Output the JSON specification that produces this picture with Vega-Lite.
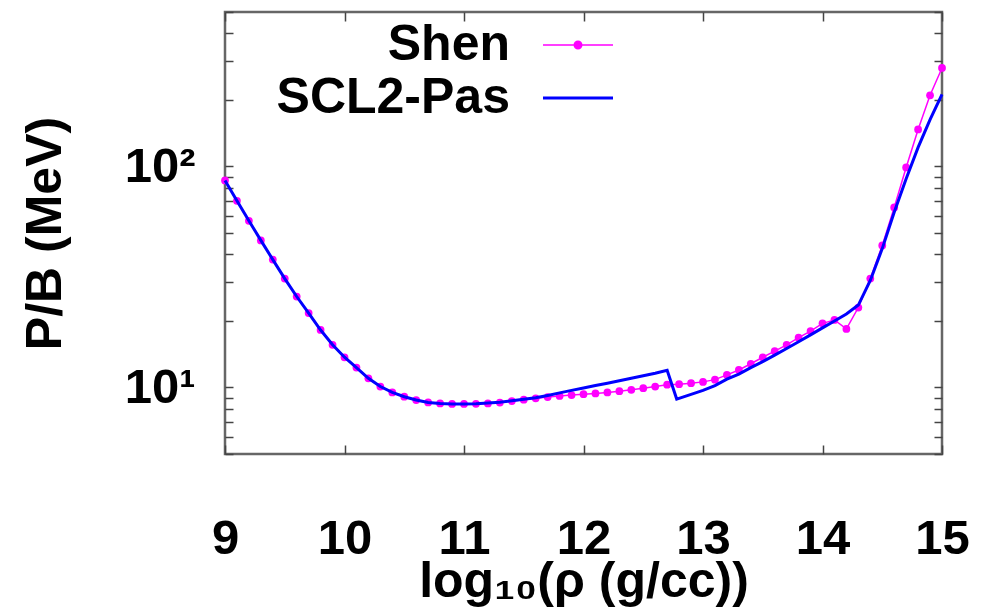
{
  "$schema": "https://vega.github.io/schema/vega-lite/v6.json",
  "width": 717,
  "height": 442,
  "autosize": {"type": "none"},
  "padding": {"left": 225, "top": 12, "right": 39, "bottom": 160},
  "background": "white",
  "config": {"view": {"stroke": "#666666", "strokeWidth": 2.5}, "font": "Liberation Sans"},
  "data": {"values": [
    {"series":"Shen","logrho":9.0,"pb":86.5},{"series":"Shen","logrho":9.1,"pb":69.9},{"series":"Shen","logrho":9.2,"pb":56.8},{"series":"Shen","logrho":9.3,"pb":46.3},{"series":"Shen","logrho":9.4,"pb":37.9},
    {"series":"Shen","logrho":9.5,"pb":31.1},{"series":"Shen","logrho":9.6,"pb":25.8},{"series":"Shen","logrho":9.7,"pb":21.7},{"series":"Shen","logrho":9.8,"pb":18.2},{"series":"Shen","logrho":9.9,"pb":15.6},
    {"series":"Shen","logrho":10.0,"pb":13.7},{"series":"Shen","logrho":10.1,"pb":12.3},{"series":"Shen","logrho":10.2,"pb":11.0},{"series":"Shen","logrho":10.3,"pb":10.1},{"series":"Shen","logrho":10.4,"pb":9.5},
    {"series":"Shen","logrho":10.5,"pb":9.08},{"series":"Shen","logrho":10.6,"pb":8.77},{"series":"Shen","logrho":10.7,"pb":8.56},{"series":"Shen","logrho":10.8,"pb":8.47},{"series":"Shen","logrho":10.9,"pb":8.42},
    {"series":"Shen","logrho":11.0,"pb":8.42},{"series":"Shen","logrho":11.1,"pb":8.43},{"series":"Shen","logrho":11.2,"pb":8.47},{"series":"Shen","logrho":11.3,"pb":8.55},{"series":"Shen","logrho":11.4,"pb":8.68},
    {"series":"Shen","logrho":11.5,"pb":8.8},{"series":"Shen","logrho":11.6,"pb":8.93},{"series":"Shen","logrho":11.7,"pb":9.05},{"series":"Shen","logrho":11.8,"pb":9.15},{"series":"Shen","logrho":11.9,"pb":9.24},
    {"series":"Shen","logrho":12.0,"pb":9.32},{"series":"Shen","logrho":12.1,"pb":9.4},{"series":"Shen","logrho":12.2,"pb":9.5},{"series":"Shen","logrho":12.3,"pb":9.62},{"series":"Shen","logrho":12.4,"pb":9.76},
    {"series":"Shen","logrho":12.5,"pb":9.93},{"series":"Shen","logrho":12.6,"pb":10.1},{"series":"Shen","logrho":12.7,"pb":10.3},{"series":"Shen","logrho":12.8,"pb":10.35},{"series":"Shen","logrho":12.9,"pb":10.45},
    {"series":"Shen","logrho":13.0,"pb":10.6},{"series":"Shen","logrho":13.1,"pb":10.85},{"series":"Shen","logrho":13.2,"pb":11.4},{"series":"Shen","logrho":13.3,"pb":12.0},{"series":"Shen","logrho":13.4,"pb":12.8},
    {"series":"Shen","logrho":13.5,"pb":13.7},{"series":"Shen","logrho":13.6,"pb":14.6},{"series":"Shen","logrho":13.7,"pb":15.6},{"series":"Shen","logrho":13.8,"pb":16.8},{"series":"Shen","logrho":13.9,"pb":18.0},
    {"series":"Shen","logrho":14.0,"pb":19.5},{"series":"Shen","logrho":14.1,"pb":20.2},{"series":"Shen","logrho":14.2,"pb":18.4},{"series":"Shen","logrho":14.3,"pb":23.0},{"series":"Shen","logrho":14.4,"pb":31.1},
    {"series":"Shen","logrho":14.5,"pb":43.9},{"series":"Shen","logrho":14.6,"pb":65.3},{"series":"Shen","logrho":14.7,"pb":99},{"series":"Shen","logrho":14.8,"pb":147},{"series":"Shen","logrho":14.9,"pb":210},
    {"series":"Shen","logrho":15.0,"pb":279},
    {"series":"SCL2-Pas","logrho":9.0,"pb":86.5},{"series":"SCL2-Pas","logrho":9.1,"pb":69.9},{"series":"SCL2-Pas","logrho":9.2,"pb":56.8},{"series":"SCL2-Pas","logrho":9.3,"pb":46.3},{"series":"SCL2-Pas","logrho":9.4,"pb":37.9},
    {"series":"SCL2-Pas","logrho":9.5,"pb":31.1},{"series":"SCL2-Pas","logrho":9.6,"pb":25.8},{"series":"SCL2-Pas","logrho":9.7,"pb":21.7},{"series":"SCL2-Pas","logrho":9.8,"pb":18.2},{"series":"SCL2-Pas","logrho":9.9,"pb":15.6},
    {"series":"SCL2-Pas","logrho":10.0,"pb":13.7},{"series":"SCL2-Pas","logrho":10.1,"pb":12.3},{"series":"SCL2-Pas","logrho":10.2,"pb":11.0},{"series":"SCL2-Pas","logrho":10.3,"pb":10.1},{"series":"SCL2-Pas","logrho":10.4,"pb":9.5},
    {"series":"SCL2-Pas","logrho":10.5,"pb":9.08},{"series":"SCL2-Pas","logrho":10.6,"pb":8.77},{"series":"SCL2-Pas","logrho":10.7,"pb":8.56},{"series":"SCL2-Pas","logrho":10.8,"pb":8.47},{"series":"SCL2-Pas","logrho":10.9,"pb":8.42},
    {"series":"SCL2-Pas","logrho":11.0,"pb":8.42},{"series":"SCL2-Pas","logrho":11.1,"pb":8.44},{"series":"SCL2-Pas","logrho":11.2,"pb":8.5},{"series":"SCL2-Pas","logrho":11.3,"pb":8.58},{"series":"SCL2-Pas","logrho":11.4,"pb":8.7},
    {"series":"SCL2-Pas","logrho":11.5,"pb":8.84},{"series":"SCL2-Pas","logrho":11.6,"pb":8.98},{"series":"SCL2-Pas","logrho":11.7,"pb":9.2},{"series":"SCL2-Pas","logrho":11.8,"pb":9.45},{"series":"SCL2-Pas","logrho":11.9,"pb":9.7},
    {"series":"SCL2-Pas","logrho":12.0,"pb":9.95},{"series":"SCL2-Pas","logrho":12.1,"pb":10.2},{"series":"SCL2-Pas","logrho":12.2,"pb":10.45},{"series":"SCL2-Pas","logrho":12.3,"pb":10.72},{"series":"SCL2-Pas","logrho":12.4,"pb":11.0},
    {"series":"SCL2-Pas","logrho":12.5,"pb":11.3},{"series":"SCL2-Pas","logrho":12.6,"pb":11.6},{"series":"SCL2-Pas","logrho":12.7,"pb":11.95},{"series":"SCL2-Pas","logrho":12.78,"pb":8.86},{"series":"SCL2-Pas","logrho":12.9,"pb":9.3},
    {"series":"SCL2-Pas","logrho":13.0,"pb":9.7},{"series":"SCL2-Pas","logrho":13.1,"pb":10.2},{"series":"SCL2-Pas","logrho":13.2,"pb":10.9},{"series":"SCL2-Pas","logrho":13.3,"pb":11.5},{"series":"SCL2-Pas","logrho":13.4,"pb":12.3},
    {"series":"SCL2-Pas","logrho":13.5,"pb":13.1},{"series":"SCL2-Pas","logrho":13.6,"pb":14.0},{"series":"SCL2-Pas","logrho":13.7,"pb":15.0},{"series":"SCL2-Pas","logrho":13.8,"pb":16.1},{"series":"SCL2-Pas","logrho":13.9,"pb":17.3},
    {"series":"SCL2-Pas","logrho":14.0,"pb":18.6},{"series":"SCL2-Pas","logrho":14.1,"pb":20.0},{"series":"SCL2-Pas","logrho":14.2,"pb":21.5},{"series":"SCL2-Pas","logrho":14.3,"pb":23.6},{"series":"SCL2-Pas","logrho":14.4,"pb":30.5},
    {"series":"SCL2-Pas","logrho":14.5,"pb":42.5},{"series":"SCL2-Pas","logrho":14.6,"pb":62},{"series":"SCL2-Pas","logrho":14.7,"pb":88},{"series":"SCL2-Pas","logrho":14.8,"pb":122},{"series":"SCL2-Pas","logrho":14.9,"pb":163},
    {"series":"SCL2-Pas","logrho":15.0,"pb":212}
  ]},
  "layer": [
    {
      "transform": [{"filter": "datum.series === 'Shen'"}],
      "mark": {"type": "line", "strokeWidth": 1.5, "point": {"filled": true, "size": 60, "opacity": 1}},
      "encoding": {
        "x": {"field": "logrho", "type": "quantitative",
          "scale": {"domain": [9, 15], "nice": false, "zero": false},
          "axis": {"orient": "bottom", "values": [9,10,11,12,13,14,15], "format": "d", "grid": false, "domain": false,
            "tickSize": -9, "tickColor": "#444444", "tickWidth": 1.5, "labelFlush": false,
            "labelFont": "Liberation Sans", "labelFontSize": 49, "labelFontWeight": "bold", "labelColor": "black",
            "labelBaseline": "alphabetic", "labelPadding": 108,
            "title": "log₁₀(ρ (g/cc))", "titleFont": "Liberation Sans", "titleFontSize": 50, "titleFontWeight": "bold", "titleColor": "black",
            "titleBaseline": "alphabetic", "titleY": 142}},
        "y": {"field": "pb", "type": "quantitative",
          "scale": {"type": "log", "domain": [5, 500], "nice": false},
          "axis": {"orient": "left", "values": [5,6,7,8,9,10,20,30,40,50,60,70,80,90,100,200,300,400,500],
            "labelExpr": "datum.value == 10 ? '10¹' : (datum.value == 100 ? '10²' : '')",
            "grid": false, "domain": false, "tickSize": -8, "tickColor": "#444444", "tickWidth": 1.5,
            "labelFlush": false, "labelOverlap": false,
            "labelFont": "Liberation Sans", "labelFontSize": 49, "labelFontWeight": "bold", "labelColor": "black", "labelPadding": 38,
            "title": "P/B (MeV)", "titleFont": "Liberation Sans", "titleFontSize": 50, "titleFontWeight": "bold", "titleColor": "black",
            "titleX": -180, "titleBaseline": "middle",
            "encode": {"ticks": {"update": {"x2": {"signal": "(datum.value == 10 || datum.value == 100) ? 8 : 4"}}}}}},
        "color": {"field": "series", "type": "nominal",
          "scale": {"domain": ["Shen", "SCL2-Pas"], "range": ["#ff00ff", "#0000ff"]},
          "legend": {"title": null, "orient": "none", "legendX": 200, "legendY": 8, "padding": 0,
            "labelFont": "Liberation Sans", "labelFontSize": 50, "labelFontWeight": "bold", "labelColor": "black",
            "labelLimit": 0, "labelOffset": 0, "symbolSize": 100, "rowPadding": 3,
            "encode": {
              "symbols": {"update": {
                "shape": {"signal": "datum.value === 'Shen' ? 'M-7,0H7M-0.75,0A0.75,0.75 0 1,0 0.75,0A0.75,0.75 0 1,0 -0.75,0Z' : 'M-7,0H7'"},
                "x": {"value": 153},
                "strokeWidth": {"signal": "datum.value === 'Shen' ? 1.5 : 3"},
                "fill": {"signal": "datum.value === 'Shen' ? '#ff00ff' : 'transparent'"},
                "stroke": {"signal": "datum.value === 'Shen' ? '#ff00ff' : '#0000ff'"},
                "opacity": {"value": 1}, "fillOpacity": {"value": 1}, "strokeOpacity": {"value": 1}}},
              "labels": {"update": {"x": {"value": 85}, "align": {"value": "right"}}}
            }}}
      }
    },
    {
      "transform": [{"filter": "datum.series === 'SCL2-Pas'"}],
      "mark": {"type": "line", "strokeWidth": 3},
      "encoding": {
        "x": {"field": "logrho", "type": "quantitative",
          "scale": {"domain": [9, 15], "nice": false, "zero": false},
          "axis": {"orient": "top", "values": [9,10,11,12,13,14,15], "labels": false, "title": null, "grid": false, "domain": false,
            "tickSize": -9, "tickColor": "#444444", "tickWidth": 1.5}},
        "y": {"field": "pb", "type": "quantitative",
          "scale": {"type": "log", "domain": [5, 500], "nice": false},
          "axis": {"orient": "right", "values": [5,6,7,8,9,10,20,30,40,50,60,70,80,90,100,200,300,400,500],
            "labels": false, "title": null, "grid": false, "domain": false, "tickSize": -8, "tickColor": "#444444", "tickWidth": 1.5,
            "encode": {"ticks": {"update": {"x2": {"signal": "(datum.value == 10 || datum.value == 100) ? -8 : -4"}}}}}},
        "color": {"field": "series", "type": "nominal",
          "scale": {"domain": ["Shen", "SCL2-Pas"], "range": ["#ff00ff", "#0000ff"]}}
      }
    }
  ],
  "resolve": {"axis": {"x": "independent", "y": "independent"}}
}
